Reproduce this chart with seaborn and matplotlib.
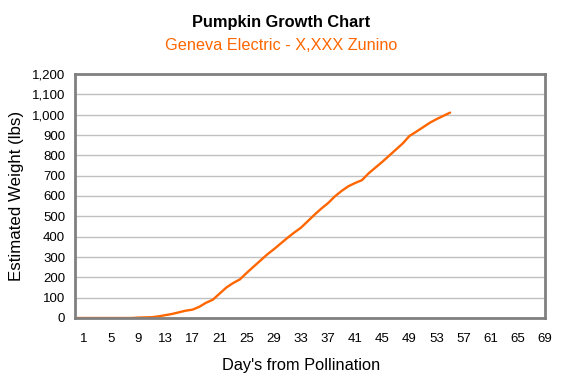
import numpy as np
import pandas as pd
import seaborn as sns
import matplotlib.pyplot as plt
from matplotlib.ticker import FuncFormatter, MultipleLocator

sns.set_style("white")
plt.rcParams['font.family'] = ['Liberation Sans', 'DejaVu Sans']
plt.rcParams['text.color'] = 'black'
plt.rcParams['axes.labelcolor'] = 'black'

# data
days = list(range(0, 56))
weights = [0, 0, 0, 0, 0, 0, 0, 0, 0, 2,
           3, 4, 8, 14, 20, 28, 36, 41, 55, 75,
           90, 120, 150, 172, 190, 222, 252, 282, 312, 338,
           366, 394, 420, 444, 476, 508, 538, 565, 598, 625,
           648, 664, 678, 712, 740, 768, 798, 828, 858, 895,
           916, 938, 960, 978, 994, 1010]
x_labels = list(range(1, 70, 4))
y_ticks = list(range(0, 1201, 100))

df = pd.DataFrame({"day": days, "weight": weights})

fig = plt.figure(figsize=(5.63, 3.8), dpi=100)
ax = fig.add_axes([75 / 563, 62 / 380, 470 / 563, 244 / 380])

sns.lineplot(data=df, x="day", y="weight", color="#ff6600", linewidth=1.7, ax=ax)

ax.set_xlim(-0.33, 69)
ax.set_ylim(0, 1200)
ax.set_yticks(y_ticks)
ax.yaxis.set_major_formatter(FuncFormatter(lambda v, p: f"{int(v):,}"))
ax.set_xticks(x_labels)
ax.xaxis.set_minor_locator(MultipleLocator(1))
ax.tick_params(axis="x", which="both", direction="inout", length=5, width=0.8,
               color="#808080", labelsize=9.5, labelcolor="black", pad=8)
ax.tick_params(axis="y", direction="out", length=4, width=0.8, color="#808080",
               labelsize=9.5, labelcolor="black", pad=3)
ax.grid(axis="y", color="#c0c0c0", linewidth=1)
ax.set_axisbelow(True)
for s in ax.spines.values():
    s.set_color("#808080")
    s.set_linewidth(2)

ax.set_xlabel("Day's from Pollination", fontsize=11.8, labelpad=10,
              x=(301 - 75) / 470)
ax.set_ylabel("Estimated Weight (lbs)", fontsize=12.2, labelpad=6)

fig.text(0.5, 1 - 22 / 380, "Pumpkin Growth Chart", ha="center", va="center",
         fontsize=11.8, fontweight="bold", color="black")
fig.text(0.5, 1 - 45 / 380, "Geneva Electric - X,XXX Zunino", ha="center",
         va="center", fontsize=11.7, color="#ff6600")

plt.savefig("out.png", dpi=100)
